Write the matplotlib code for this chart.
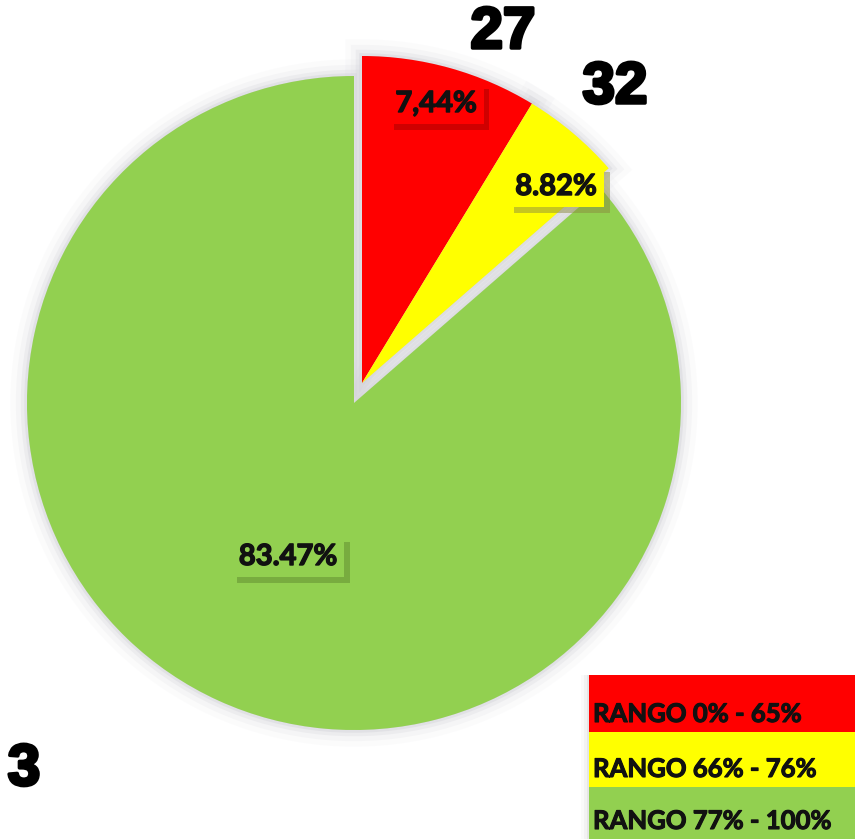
import matplotlib.pyplot as plt
import matplotlib.patheffects as pe
from matplotlib.patches import Wedge, Rectangle

# slice sizes (percent of the circle)
sizes = [8.7, 4.9, 86.4]
colors = ['#FF0000', '#FFFF00', '#92D050']
pct_labels = ['7,44%', '8.82%', '83.47%']
counts = ['27', '32', '3']
legend_labels = ['RANGO 0% - 65%', 'RANGO 66% - 76%', 'RANGO 77% - 100%']

W, H = 864, 839
fig = plt.figure(figsize=(W / 100, H / 100), dpi=100)
ax = fig.add_axes([0, 0, 1, 1])

cx, cy, r = 354, H - 403, 327
wedges, _ = ax.pie(sizes, colors=colors, startangle=90, counterclock=False,
                   center=(cx, cy), radius=r,
                   wedgeprops=dict(linewidth=0, zorder=2))

# red and yellow pulled out together
for w in wedges[:2]:
    w.set_center((cx + 8, cy + 20))

# soft grey shadow round every slice
for w in wedges:
    for lw, a in [(24, 0.08), (16, 0.14), (9, 0.25), (4, 0.4)]:
        ax.add_patch(Wedge(w.center, w.r, w.theta1, w.theta2, fc='#d2d2d8',
                           ec='#d2d2d8', lw=lw, alpha=a, zorder=1))

# percentage labels with boxes
lab_pos = [(436, 104), (556, 187), (288, 557)]
shade = ['#a00000', '#8c8c40', '#5f8a30']
thick = [pe.withStroke(linewidth=1.0, foreground='#111111')]
for txt, (x, y), c, s in zip(pct_labels, lab_pos, colors, shade):
    t = ax.text(x, H - y, txt, ha='center', va='center', fontsize=21,
                fontweight='bold', family='Lato', color='#111111', zorder=5,
                path_effects=thick,
                bbox=dict(boxstyle='square,pad=0.25', fc=c, ec='none'))
    t.get_bbox_patch().set_path_effects([
        pe.SimplePatchShadow(offset=(4, -4), shadow_rgbFace=s, alpha=0.5),
        pe.Normal()])

# counts
cnt_pos = [(503, 33), (615, 88), (24, 770)]
for txt, (x, y) in zip(counts, cnt_pos):
    ax.text(x, H - y, txt, ha='center', va='center', fontsize=42,
            fontweight='bold', family='Liberation Sans', color='black', zorder=6,
            path_effects=[pe.withStroke(linewidth=2.5, foreground='black')])

# legend block
rows = [(675, 732), (732, 787), (787, 839)]
for (y0, y1), c, txt in zip(rows, colors, legend_labels):
    for k, a in [(8, 0.06), (5, 0.1), (2, 0.18)]:
        ax.add_patch(Rectangle((589 - k, H - y1), 266 + k, y1 - y0,
                               fc='#b0b0b0', ec='none', alpha=a, zorder=3))
    ax.add_patch(Rectangle((589, H - y1), 266, y1 - y0, fc=c, ec='none', zorder=4))
    ax.text(593, H - (y1 - 10), txt, ha='left', va='baseline', fontsize=18.5,
            fontweight='bold', family='Lato', color='#111111', zorder=5,
            path_effects=[pe.withStroke(linewidth=0.8, foreground='#111111')])

ax.set_xlim(0, W)
ax.set_ylim(0, H)
ax.axis('off')
fig.savefig('out.png', dpi=100)
